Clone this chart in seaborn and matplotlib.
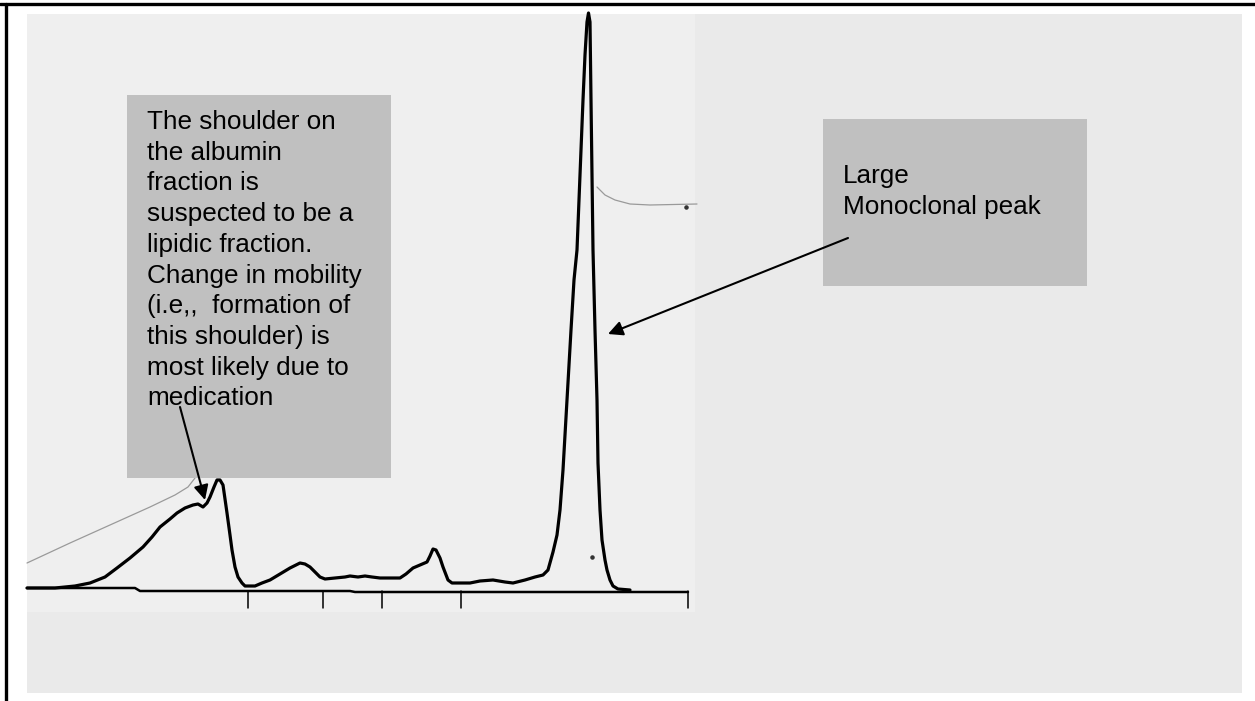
import matplotlib
matplotlib.use("Agg")
import matplotlib.pyplot as plt
from matplotlib.patches import Rectangle
import seaborn as sns
import pandas as pd

# Densitometer scan of a serum protein electrophoresis strip.
# Position along the strip (px) and the recorded height above the baseline row (px from top).
scan_pos = [27, 55, 75, 90, 105, 117, 130, 143, 152, 160, 170, 177, 185, 193, 198, 203,
            207, 210, 214, 217, 220, 223, 227, 230, 232, 235, 238, 242, 245, 250, 255,
            262, 270, 280, 290, 300, 305, 310, 315, 320, 325, 335, 345, 350, 358, 365,
            372, 380, 390, 400, 406, 413, 420, 427, 430, 433, 436, 440, 443, 448, 452,
            457, 470, 480, 493, 505, 513, 525, 535, 543, 548, 553, 557, 560, 563, 567,
            571, 574, 577, 580, 583, 585, 587, 588.5, 590, 591, 592, 593, 595, 597, 598,
            600, 602, 605, 607, 610, 613, 618, 630]
scan_row = [588, 588, 586, 583, 577, 568, 558, 547, 537, 527, 519, 513, 508, 505, 504, 507,
            503, 497, 487, 480, 480, 485, 513, 535, 550, 567, 577, 583, 586, 586, 586,
            583, 580, 574, 568, 563, 564, 567, 572, 577, 579, 578, 577, 576, 577, 576,
            577, 578, 578, 578, 574, 568, 565, 562, 556, 549, 550, 558, 567, 580, 583,
            583, 583, 581, 580, 582, 583, 580, 577, 575, 570, 552, 535, 510, 470, 400,
            330, 280, 250, 175, 100, 55, 22, 13, 22, 100, 175, 250, 330, 400, 463,
            510, 540, 560, 570, 580, 586, 589, 590]

# Fraction boundaries marked on the baseline (albumin | a1 | a2 | beta | gamma | end)
fraction_bounds = [248, 323, 382, 461, 688]
baseline_pos = [27, 135, 140, 350, 355, 688]
baseline_row = [588, 588, 591, 591, 592, 592]

# Faint pencil lines on the chart paper
pencil_a_pos = [27, 70, 110, 150, 175, 188, 195]
pencil_a_row = [563, 543, 525, 507, 495, 487, 478]
pencil_b_pos = [597, 605, 615, 630, 650, 697]
pencil_b_row = [187, 195, 200, 204, 205, 204]
specks_pos = [592, 686]
specks_row = [557, 207]

albumin_note = ["The shoulder on", "the albumin", "fraction is", "suspected to be a",
                "lipidic fraction.", "Change in mobility", "(i.e,,  formation of",
                "this shoulder) is", "most likely due to", "medication"]
peak_note = ["Large", "Monoclonal peak"]

BASE = 590  # row of the zero line; heights are measured upward from it


def h(row):
    return BASE - row


W, H = 1255, 701
sns.set_theme(style="white")
plt.rcParams["font.family"] = ["Liberation Sans", "DejaVu Sans"]

fig = plt.figure(figsize=(W / 100, H / 100), dpi=100)
fig.patch.set_facecolor("white")
ax = fig.add_axes([0, 0, 1, 1])
ax.set_xlim(0, W)
ax.set_ylim(h(H), h(0))
ax.axis("off")

# chart paper
ax.add_patch(Rectangle((27, h(693)), 1242 - 27, 693 - 14, facecolor="#eaeaea",
                       edgecolor="none", zorder=0))
ax.add_patch(Rectangle((27, h(612)), 695 - 27, 612 - 14, facecolor="#efefef",
                       edgecolor="none", zorder=0.5))

trace = pd.DataFrame({"pos": scan_pos, "height": [h(r) for r in scan_row]})
sns.lineplot(data=trace, x="pos", y="height", sort=False, color="black",
             linewidth=2.3, ax=ax, zorder=3, solid_joinstyle="round")

sns.lineplot(x=baseline_pos, y=[h(r) for r in baseline_row], sort=False,
             color="black", linewidth=1.8, ax=ax, zorder=2)
for b in fraction_bounds:
    ax.plot([b, b], [h(591), h(608)], color="black", lw=1.1, zorder=2)

sns.lineplot(x=pencil_a_pos, y=[h(r) for r in pencil_a_row], sort=False,
             color="#9a9a9a", linewidth=0.9, ax=ax, zorder=1)
sns.lineplot(x=pencil_b_pos, y=[h(r) for r in pencil_b_row], sort=False,
             color="#9a9a9a", linewidth=0.9, ax=ax, zorder=1)
ax.scatter(specks_pos, [h(r) for r in specks_row], s=5, color="#333333", zorder=2)

# annotation boxes
ax.add_patch(Rectangle((127, h(478)), 391 - 127, 478 - 95, facecolor="#c0c0c0",
                       edgecolor="none", zorder=4))
ax.add_patch(Rectangle((823, h(286)), 1087 - 823, 286 - 119, facecolor="#c0c0c0",
                       edgecolor="none", zorder=4))

for i, line in enumerate(albumin_note):
    ax.text(147, h(129 + 30.7 * i), line, fontsize=18.8, va="baseline", ha="left",
            color="black", zorder=5)
for i, line in enumerate(peak_note):
    ax.text(843, h(183 + 31 * i), line, fontsize=18.8, va="baseline", ha="left",
            color="black", zorder=5)

arrow = dict(arrowstyle="-|>", color="black", lw=1.5, mutation_scale=22,
             shrinkA=0, shrinkB=0)
ax.annotate("", xy=(205, h(500)), xytext=(180, h(407)), arrowprops=arrow, zorder=6)
ax.annotate("", xy=(608, h(334)), xytext=(848, h(238)), arrowprops=arrow, zorder=6)

# page frame
ax.plot([0, W], [h(3.5), h(3.5)], color="black", lw=2.4, zorder=7, clip_on=False)
ax.plot([6, 6], [h(3.5), h(H)], color="black", lw=2.4, zorder=7, clip_on=False)

fig.savefig("out.png", dpi=100, facecolor="white")
